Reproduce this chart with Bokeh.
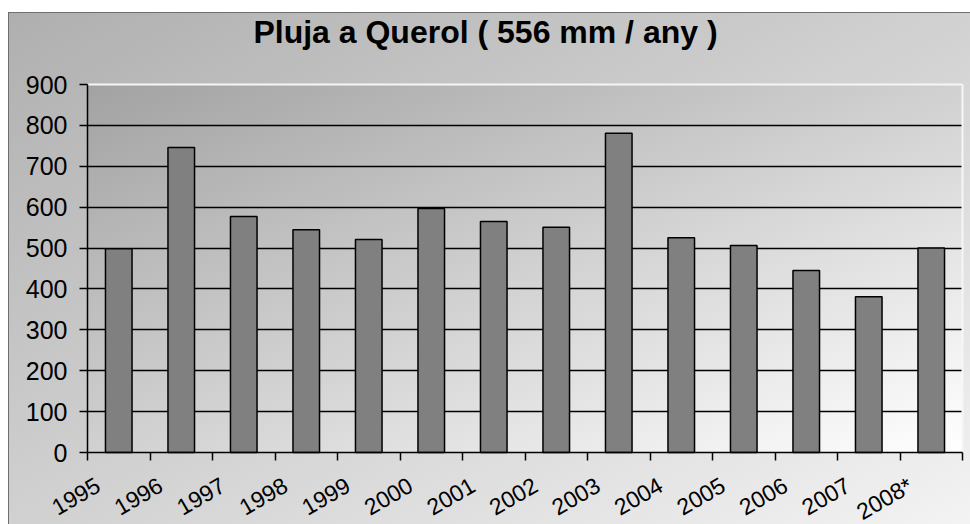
import math
from bokeh.plotting import figure
from bokeh.models import Range1d, FixedTicker, Grid
from bokeh.embed import file_html
from bokeh.resources import INLINE

# ---- data ----
years = ["1995", "1996", "1997", "1998", "1999", "2000", "2001",
         "2002", "2003", "2004", "2005", "2006", "2007", "2008*"]
rain_mm = [498, 746, 577, 545, 521, 597, 565, 551, 781, 525, 506, 445, 381, 500]
y_ticks = [0, 100, 200, 300, 400, 500, 600, 700, 800, 900]
title_text = "Pluja a Querol ( 556 mm / any )"

FONT = "Liberation Sans"
n = len(years)

# ---- layout constants (canvas pixels) ----
W, H = 970, 524
AX_L, AX_R = 87, 962            # x of value axis and right edge of plot area
AX_T, AX_B = 84, 452            # y of 900 line and of 0 line
TOP = 60                        # frame top (below title panel)
y_max = y_ticks[-1]
upp_y = y_max / (AX_B - AX_T)   # value units per pixel
upp_x = n / (AX_R - AX_L)       # category units per pixel

p = figure(width=W, height=H, output_backend="svg", toolbar_location=None,
           x_range=Range1d(-AX_L * upp_x, n + (W - AX_R) * upp_x),
           y_range=Range1d(-(H - AX_B) * upp_y, y_max + (AX_T - TOP) * upp_y),
           min_border_left=0, min_border_right=0, min_border_top=TOP,
           min_border_bottom=0, title=title_text)

# backgrounds via CSS gradients (canvas transparent)
p.border_fill_color = None
p.background_fill_color = None
p.outline_line_color = None
p.styles = {
    "background":
        "linear-gradient(#6e6e6e,#6e6e6e) 8px 12px / 100% 1px no-repeat, "
        "linear-gradient(#6e6e6e,#6e6e6e) 8px 12px / 1px 100% no-repeat, "
        f"linear-gradient(to bottom right, #a2a2a2, #ffffff) {AX_L}px {AX_T}px / {AX_R - AX_L}px {AX_B - AX_T}px no-repeat, "
        "linear-gradient(to bottom right, #afafaf, #f4f4f4) 8px 12px / 100% 100% no-repeat"
}

# title
p.title.align = "center"
p.title.offset = 5
p.title.text_font = FONT
p.title.text_font_size = "32px"
p.title.text_font_style = "bold"
p.title.text_color = "black"
p.title.standoff = 22

# bars
centers = [i + 0.5 for i in range(n)]
p.vbar(x=centers, top=rain_mm, width=0.425, fill_color="#808080",
       line_color="black", line_width=1.5)

# grid
p.xgrid.visible = False
p.ygrid.ticker = FixedTicker(ticks=y_ticks[1:-1])
p.ygrid.cross_bounds = (0, n)
p.ygrid.grid_line_color = "black"
p.ygrid.grid_line_width = 1.5
# light border of plot area (top and right)
p.add_layout(Grid(dimension=1, ticker=FixedTicker(ticks=[y_max]), cross_bounds=(0, n),
                  grid_line_color="#f6f6f6", grid_line_width=2))
p.add_layout(Grid(dimension=0, ticker=FixedTicker(ticks=[n]), cross_bounds=(0, y_max),
                  grid_line_color="#f6f6f6", grid_line_width=2))

# y axis at x=0
p.yaxis.fixed_location = 0
p.yaxis.ticker = FixedTicker(ticks=y_ticks)
p.yaxis.bounds = (0, y_max)
p.yaxis.axis_line_color = "black"
p.yaxis.axis_line_width = 1.5
p.yaxis.major_tick_line_color = "black"
p.yaxis.major_tick_line_width = 1.5
p.yaxis.major_tick_in = 0
p.yaxis.major_tick_out = 8
p.yaxis.minor_tick_line_color = None
p.yaxis.major_label_standoff = 12
p.yaxis.major_label_text_font = FONT
p.yaxis.major_label_text_font_size = "25px"
p.yaxis.major_label_text_color = "black"

# x axis at y=0: tick marks at category boundaries, rotated labels
label_pos = [i + 0.17 for i in range(n)]
p.xaxis.fixed_location = 0
p.xaxis.bounds = (0, n)
p.xaxis.ticker = FixedTicker(ticks=label_pos, minor_ticks=list(range(n + 1)))
p.xaxis.major_label_overrides = {pos: yr for pos, yr in zip(label_pos, years)}
p.xaxis.axis_line_color = "black"
p.xaxis.axis_line_width = 1.5
p.xaxis.major_tick_line_color = None
p.xaxis.major_tick_in = 0
p.xaxis.major_tick_out = 0
p.xaxis.minor_tick_line_color = "black"
p.xaxis.minor_tick_line_width = 1.5
p.xaxis.minor_tick_in = 0
p.xaxis.minor_tick_out = 8
p.xaxis.major_label_orientation = math.pi / 6
p.xaxis.major_label_standoff = 23
p.xaxis.major_label_text_font = FONT
p.xaxis.major_label_text_font_size = "23px"
p.xaxis.major_label_text_color = "black"

open("out.html", "w").write(file_html(p, INLINE))
